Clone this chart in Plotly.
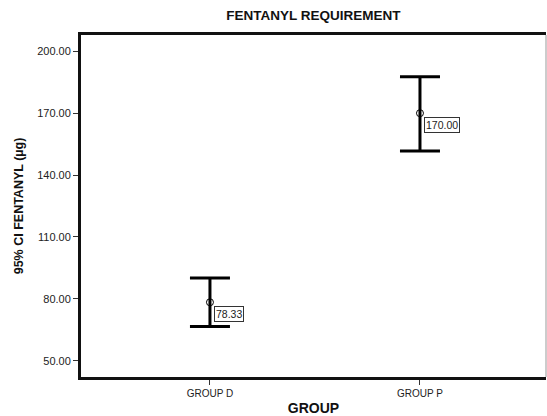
import plotly.graph_objects as go

groups = ["GROUP D", "GROUP P"]
means = [78.33, 170.00]
ci_upper = [90.1, 187.7]
ci_lower = [66.6, 151.7]
y_ticks = [50, 80, 110, 140, 170, 200]
y_tick_labels = ["50.00", "80.00", "110.00", "140.00", "170.00", "200.00"]

xpos = list(range(len(groups)))
err_plus = [u - m for u, m in zip(ci_upper, means)]
err_minus = [m - l for m, l in zip(means, ci_lower)]

FONT = "Liberation Sans, Arial, sans-serif"

fig = go.Figure()
fig.add_trace(go.Scatter(
    x=xpos, y=means, mode="markers",
    marker=dict(symbol="circle-open", size=7, color="black", line=dict(width=1, color="black")),
    error_y=dict(type="data", symmetric=False, array=err_plus, arrayminus=err_minus,
                 color="black", thickness=3, width=20),
    showlegend=False, hoverinfo="skip",
))

for xp, m in zip(xpos, means):
    fig.add_annotation(
        x=xp, y=m, xref="x", yref="y", text=f"{m:.2f}", showarrow=False,
        xanchor="left", yanchor="top", xshift=4, yshift=-4,
        font=dict(family=FONT, size=10.5, color="#222222"),
        bordercolor="#333333", borderwidth=1, borderpad=1, bgcolor="white",
    )

fig.add_shape(type="line", xref="paper", yref="paper", x0=1, x1=1, y0=0, y1=1,
              line=dict(color="#bbbbbb", width=1.5))

fig.update_layout(
    width=547, height=416,
    margin=dict(l=81, r=1, t=35, b=36),
    paper_bgcolor="white", plot_bgcolor="white",
    font=dict(family=FONT, color="black"),
    title=dict(text="<b>FENTANYL REQUIREMENT</b>", x=313.5/547, xanchor="center",
               y=1 - 15/416, yanchor="middle", font=dict(family=FONT, size=13.5, color="#111111")),
    xaxis=dict(range=[-0.614, 1.6], tickvals=xpos, ticktext=groups, showgrid=False,
               zeroline=False, showline=True, linecolor="#111111", linewidth=3, mirror=True,
               ticks="outside", ticklen=5, tickcolor="#333333", tickwidth=1,
               tickfont=dict(family=FONT, size=10, color="#222222"),
               title=dict(text="<b>GROUP</b>", font=dict(family=FONT, size=14, color="#111111"), standoff=6)),
    yaxis=dict(range=[42.1, 207.9], tickvals=y_ticks, ticktext=y_tick_labels, showgrid=False,
               zeroline=False, showline=True, linecolor="#111111", linewidth=3,
               ticks="outside", ticklen=5, tickcolor="#333333", tickwidth=1,
               tickfont=dict(family=FONT, size=11, color="#222222"),
               title=dict(text="<b>95% CI FENTANYL (µg)</b>", font=dict(family=FONT, size=12.5, color="#111111"), standoff=11)),
)

fig.write_html("out.html", config={"displayModeBar": False},
               post_script="document.body.style.margin='0';document.body.style.overflow='hidden';")
